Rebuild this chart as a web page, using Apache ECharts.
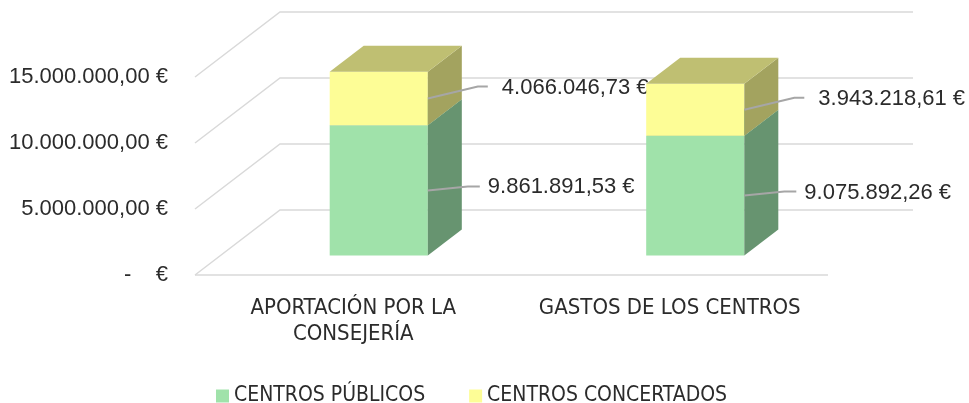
<!DOCTYPE html>
<html>
<head>
<meta charset="utf-8">
<title>Aportación y gastos</title>
<script src="https://cdn.jsdelivr.net/npm/echarts@6/dist/echarts.min.js"></script>
<style>
html, body { margin: 0; padding: 0; background: #fff; }
#chart { width: 969px; height: 403px; }
</style>
</head>
<body>
<div id="chart"></div>
<script>
// datos
var categories = ['APORTACIÓN POR LA\nCONSEJERÍA', 'GASTOS DE LOS CENTROS'];
var publicos = [9861891.53, 9075892.26];
var concertados = [4066046.73, 3943218.61];
var yTicks = [0, 5000000, 10000000, 15000000];
var seriesNames = ['CENTROS PÚBLICOS', 'CENTROS CONCERTADOS'];

// falso 3D
var DX = 85, DY = -65;      // profundidad del suelo
var D0 = 0.3, D1 = 0.7;     // cara frontal / trasera de la barra
var BAR_W = 0.31;           // ancho de barra respecto a la banda

var narrow = '"Liberation Sans Narrow", "DejaVu Sans Condensed", "Liberation Sans", sans-serif';
var normal = '"Liberation Sans", Arial, sans-serif';
var txtColor = '#2b2b2b';

function euro(v) {
	if (v === 0) return '-    €';
	var s = v.toFixed(2).split('.');
	var ent = s[0].replace(/\B(?=(\d{3})+(?!\d))/g, '.');
	return ent + ',' + s[1] + ' €';
}

function renderWall(params, api) {
	var v = api.value(1);
	var band = api.size([1, 0])[0];
	var l = api.coord([0, v]);
	var r = api.coord([categories.length - 1, v]);
	var lx = l[0] - band / 2, rx = r[0] + band / 2, y = l[1];
	var st = { stroke: '#d9d9d9', lineWidth: 1.5, fill: null };
	var children = [{
		type: 'polyline',
		shape: { points: [[lx, y], [lx + DX, y + DY], [rx + DX, y + DY]] },
		style: st
	}];
	if (v === 0) {
		children.push({ type: 'line', shape: { x1: lx, y1: y, x2: rx, y2: y }, style: st });
	}
	return { type: 'group', children: children };
}

// colores: frente, lateral, tapa ; etiqueta: codo y texto
function makeBar(col, lab) {
	return function (params, api) {
		var ci = api.value(0), base = api.value(1), top = api.value(2), val = api.value(3);
		var band = api.size([1, 0])[0];
		var w = band * BAR_W;
		var pb = api.coord([ci, base]), pt = api.coord([ci, top]);
		var x0 = pb[0] + D0 * DX - w / 2, x1 = x0 + w;
		var yb = pb[1] + D0 * DY, yt = pt[1] + D0 * DY;
		var sx = (D1 - D0) * DX, sy = (D1 - D0) * DY;
		var ym = (yb + yt) / 2;
		var ex = x1 + lab.ex, ey = ym + lab.ey;
		return {
			type: 'group',
			children: [
				{ type: 'rect', shape: { x: x0, y: yt, width: w, height: yb - yt }, style: { fill: col[0] } },
				{ type: 'polygon', shape: { points: [[x1, yb], [x1 + sx, yb + sy], [x1 + sx, yt + sy], [x1, yt]] }, style: { fill: col[1] } },
				{ type: 'polygon', shape: { points: [[x0, yt], [x1, yt], [x1 + sx, yt + sy], [x0 + sx, yt + sy]] }, style: { fill: col[2] } },
				{ type: 'polyline', shape: { points: [[x1, ym], [ex, ey], [ex + lab.eh, ey]] }, style: { stroke: '#a6a6a6', lineWidth: 2, fill: null } },
				{ type: 'text', x: ex + lab.eh + lab.gap, y: ey + 1, style: {
					text: euro(val), fill: txtColor, font: '22px ' + normal,
					align: 'left', verticalAlign: 'middle'
				} }
			]
		};
	};
}

var wallData = yTicks.map(function (v) { return [0, v]; });
var pubData = publicos.map(function (v, i) { return [i, 0, v, v]; });
var conData = concertados.map(function (v, i) { return [i, publicos[i], publicos[i] + v, v]; });

var chart = echarts.init(document.getElementById('chart'));
chart.setOption({
	animation: false,
	grid: { left: 195, right: 141, top: 77, bottom: 128, outerBoundsMode: 'none' },
	legend: {
		data: seriesNames,
		left: 211, top: 379,
		icon: 'rect', itemWidth: 13, itemHeight: 13, itemGap: 44, itemTextGap: 8,
		textStyle: { fontFamily: narrow, fontSize: 21, color: txtColor, lineHeight: 24 }
	},
	xAxis: {
		type: 'category',
		data: categories,
		axisLine: { show: false },
		axisTick: { show: false },
		axisLabel: { margin: 20, fontFamily: narrow, fontSize: 22, lineHeight: 26, color: txtColor, interval: 0 }
	},
	yAxis: {
		type: 'value',
		min: 0, max: 15000000, interval: 5000000,
		splitLine: { show: false },
		axisLabel: { margin: 27, fontFamily: normal, fontSize: 22, color: txtColor, formatter: euro }
	},
	series: [
		{ type: 'custom', name: 'walls', silent: true, renderItem: renderWall, data: wallData, encode: { x: 0, y: 1 }, z: 1 },
		{ type: 'custom', name: seriesNames[0], renderItem: makeBar(['#a0e2aa', '#679470', '#86b88e'], { ex: 40, ey: -4, eh: 12, gap: 8 }),
		  itemStyle: { color: '#a0e2aa' }, data: pubData, encode: { x: 0, y: [1, 2] }, z: 2 },
		{ type: 'custom', name: seriesNames[1], renderItem: makeBar(['#fdfd96', '#a3a35f', '#bfbf72'], { ex: 50, ey: -12, eh: 10, gap: 14 }),
		  itemStyle: { color: '#fdfd96' }, data: conData, encode: { x: 0, y: [1, 2] }, z: 3 }
	]
});
</script>
</body>
</html>
